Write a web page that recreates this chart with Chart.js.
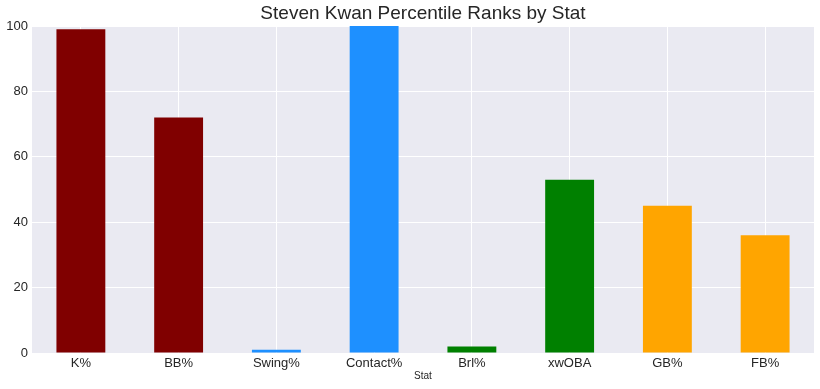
<!DOCTYPE html>
<html>
<head>
<meta charset="utf-8">
<script src="https://cdn.jsdelivr.net/npm/chart.js@4"></script>
<style>
html,body{margin:0;padding:0;background:#fff;}
#wrap{width:820px;height:389px;}
</style>
</head>
<body>
<div id="wrap"><canvas id="c" width="820" height="389"></canvas></div>
<script>
const categories = ["K%", "BB%", "Swing%", "Contact%", "Brl%", "xwOBA", "GB%", "FB%"];
const percentiles = [99, 72, 1, 100, 2, 53, 45, 36];
const barColors = ["#800000", "#800000", "#1E90FF", "#1E90FF", "#008000", "#008000", "#FFA500", "#FFA500"];
const yTicks = [0, 20, 40, 60, 80, 100];
const titleText = "Steven Kwan Percentile Ranks by Stat";
const xLabel = "Stat";

const bgPlugin = {
  id: 'bg',
  beforeDraw(chart) {
    const {ctx, chartArea: a} = chart;
    ctx.save();
    ctx.fillStyle = '#EAEAF2';
    ctx.fillRect(a.left, a.top, a.right - a.left, a.bottom - a.top);
    ctx.restore();
  },
  afterDraw(chart) {
    const {ctx, chartArea: a} = chart;
    ctx.save();
    ctx.fillStyle = '#262626';
    ctx.font = '19px "Liberation Sans", Arial, sans-serif';
    ctx.textAlign = 'center';
    ctx.textBaseline = 'middle';
    ctx.fillText(titleText, (a.left + a.right) / 2, 14);
    ctx.restore();
  }
};

new Chart(document.getElementById('c'), {
  type: 'bar',
  data: {
    labels: categories,
    datasets: [{
      data: percentiles,
      backgroundColor: barColors,
      borderWidth: 0,
      barPercentage: 0.5,
      categoryPercentage: 1.0
    }]
  },
  options: {
    responsive: false,
    animation: false,
    devicePixelRatio: 1,
    layout: {padding: {left: 0, right: 6, top: 26, bottom: 0}},
    plugins: {
      legend: {display: false},
      tooltip: {enabled: false},
      title: {display: false}
    },
    scales: {
      x: {
        grid: {color: '#FFFFFF', lineWidth: 1, offset: false, drawTicks: false},
        border: {display: false},
        ticks: {color: '#262626', font: {family: 'Liberation Sans, Arial, sans-serif', size: 13}, padding: 3},
        title: {display: true, text: xLabel, color: '#262626', font: {family: 'Liberation Sans, Arial, sans-serif', size: 10}, padding: {top: 0, bottom: 7}},
        afterFit(s) { s.height = 36; }
      },
      y: {
        min: 0, max: 100,
        grid: {color: '#FFFFFF', lineWidth: 1, drawTicks: false},
        border: {display: false},
        afterBuildTicks(s) { s.ticks = yTicks.map(v => ({value: v})); },
        ticks: {color: '#262626', font: {family: 'Liberation Sans, Arial, sans-serif', size: 13}, padding: 4},
        afterFit(s) { s.width = 32; }
      }
    }
  },
  plugins: [bgPlugin]
});
</script>
</body>
</html>
